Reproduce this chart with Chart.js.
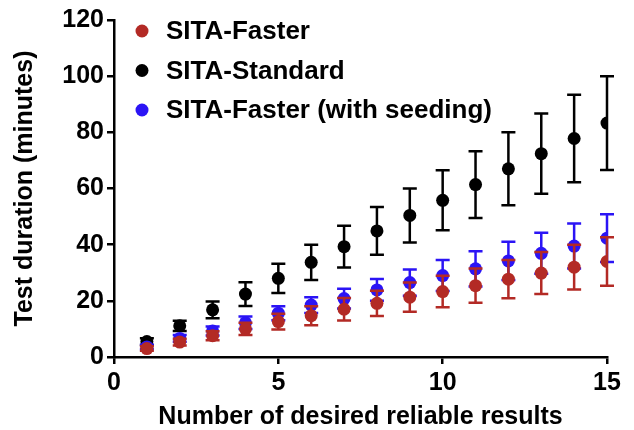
<!DOCTYPE html>
<html>
<head>
<meta charset="utf-8">
<script src="https://cdn.jsdelivr.net/npm/chart.js@4/dist/chart.umd.min.js"></script>
<style>
  body { margin: 0; background: #fff; }
  canvas { display: block; }
</style>
</head>
<body>
<canvas id="chart" width="634" height="430"></canvas>
<script>
// Test duration vs number of desired reliable results (mean ± SD)
const results = [1, 2, 3, 4, 5, 6, 7, 8, 9, 10, 11, 12, 13, 14, 15];

const fasterMean = [3.0, 5.3, 7.6, 10.0, 12.6, 14.7, 17.0, 19.1, 21.3, 23.3, 25.4, 27.7, 29.9, 32.0, 34.0];
const fasterSd   = [0.8, 1.2, 1.6, 2.2, 2.8, 3.4, 4.0, 4.5, 5.2, 5.6, 6.1, 6.8, 7.5, 8.0, 8.6];

const standardMean = [5.5, 11.1, 16.8, 22.4, 28.0, 33.7, 39.3, 44.9, 50.4, 55.8, 61.4, 67.0, 72.4, 77.8, 83.3];
const standardSd   = [1.2, 1.8, 3.0, 4.2, 5.2, 6.3, 7.4, 8.5, 9.6, 10.7, 11.9, 13.0, 14.3, 15.6, 16.7];

const seededMean = [3.6, 6.6, 9.3, 12.2, 15.6, 18.5, 20.8, 23.9, 26.5, 29.0, 31.4, 34.2, 36.9, 39.5, 42.3];
const seededSd   = [0.8, 1.2, 1.6, 2.2, 2.5, 2.8, 3.5, 3.9, 4.7, 5.5, 6.3, 6.8, 7.3, 8.0, 8.5];

const RED   = '#b32a25';
const BLACK = '#000000';
const BLUE  = '#2b14f5';
const FONT  = '"Liberation Sans", Arial, sans-serif';

const points = (means) => results.map((x, i) => ({ x, y: means[i] }));

// ── mean ± SD bars, drawn just before each dataset's markers ─────
const errorBars = {
  id: 'errorBars',
  beforeDatasetDraw(chart, args) {
    const ds = chart.data.datasets[args.index];
    if (!ds.sd) return;
    const { ctx, scales: { x, y } } = chart;
    ctx.save();
    ctx.strokeStyle = ds.borderColor;
    ctx.lineWidth = 2.5;
    ds.data.forEach((p, i) => {
      const px = x.getPixelForValue(p.x);
      const top = y.getPixelForValue(p.y + ds.sd[i]);
      const bot = y.getPixelForValue(p.y - ds.sd[i]);
      ctx.beginPath();
      ctx.moveTo(px, top); ctx.lineTo(px, bot);
      ctx.moveTo(px - 7, top); ctx.lineTo(px + 7, top);
      ctx.moveTo(px - 7, bot); ctx.lineTo(px + 7, bot);
      ctx.stroke();
    });
    ctx.restore();
  },
};

// ── legend inside the plot, top-left ─────────────────────────
const insideLegend = {
  id: 'insideLegend',
  afterDraw(chart) {
    const { ctx, chartArea } = chart;
    const items = chart.data.datasets.slice().sort((a, b) => a.legendRank - b.legendRank);
    ctx.save();
    ctx.font = `bold 26px ${FONT}`;
    ctx.textBaseline = 'middle';
    items.forEach((ds, i) => {
      const cy = chartArea.top + 11 + i * 39.5;
      ctx.fillStyle = ds.backgroundColor;
      ctx.beginPath();
      ctx.arc(chartArea.left + 28, cy, 6.5, 0, Math.PI * 2);
      ctx.fill();
      ctx.fillStyle = '#000';
      ctx.fillText(ds.label, chartArea.left + 52, cy + 1);
    });
    ctx.restore();
  },
};

const tickFont  = { family: FONT, size: 25, weight: 'bold' };
const titleFont = { family: FONT, size: 25, weight: 'bold', lineHeight: 1 };

new Chart(document.getElementById('chart'), {
  type: 'scatter',
  data: {
    datasets: [
      { label: 'SITA-Faster', data: points(fasterMean), sd: fasterSd, legendRank: 0, order: 0,
        backgroundColor: RED, borderColor: RED },
      { label: 'SITA-Standard', data: points(standardMean), sd: standardSd, legendRank: 1, order: 2,
        backgroundColor: BLACK, borderColor: BLACK },
      { label: 'SITA-Faster (with seeding)', data: points(seededMean), sd: seededSd, legendRank: 2, order: 1,
        backgroundColor: BLUE, borderColor: BLUE },
    ],
  },
  options: {
    responsive: false,
    animation: false,
    devicePixelRatio: 1,
    layout: { padding: { top: 20, right: 27, left: 0, bottom: 0 } },
    elements: { point: { radius: 6.5, borderWidth: 0, hoverRadius: 6.5 } },
    plugins: { legend: { display: false }, tooltip: { enabled: false } },
    scales: {
      x: {
        type: 'linear', min: 0, max: 15,
        afterFit: s => { s.height = 73; },
        ticks: { stepSize: 5, color: '#000', padding: 4, font: tickFont },
        grid: { drawOnChartArea: false, drawTicks: true, tickLength: 7, color: '#000', lineWidth: 2.5 },
        border: { color: '#000', width: 2.5 },
        title: { display: true, text: 'Number of desired reliable results', color: '#000',
                 padding: { top: 0, bottom: 0 }, font: titleFont },
      },
      y: {
        min: 0, max: 120,
        afterFit: s => { s.width = 114; },
        ticks: { stepSize: 20, color: '#000', padding: 3, font: tickFont },
        grid: { drawOnChartArea: false, drawTicks: true, tickLength: 7, color: '#000', lineWidth: 2.5 },
        border: { color: '#000', width: 2.5 },
        title: { display: true, text: 'Test duration (minutes)', color: '#000',
                 padding: { top: 13, bottom: 0 }, font: titleFont },
      },
    },
  },
  plugins: [errorBars, insideLegend],
});
</script>
</body>
</html>
